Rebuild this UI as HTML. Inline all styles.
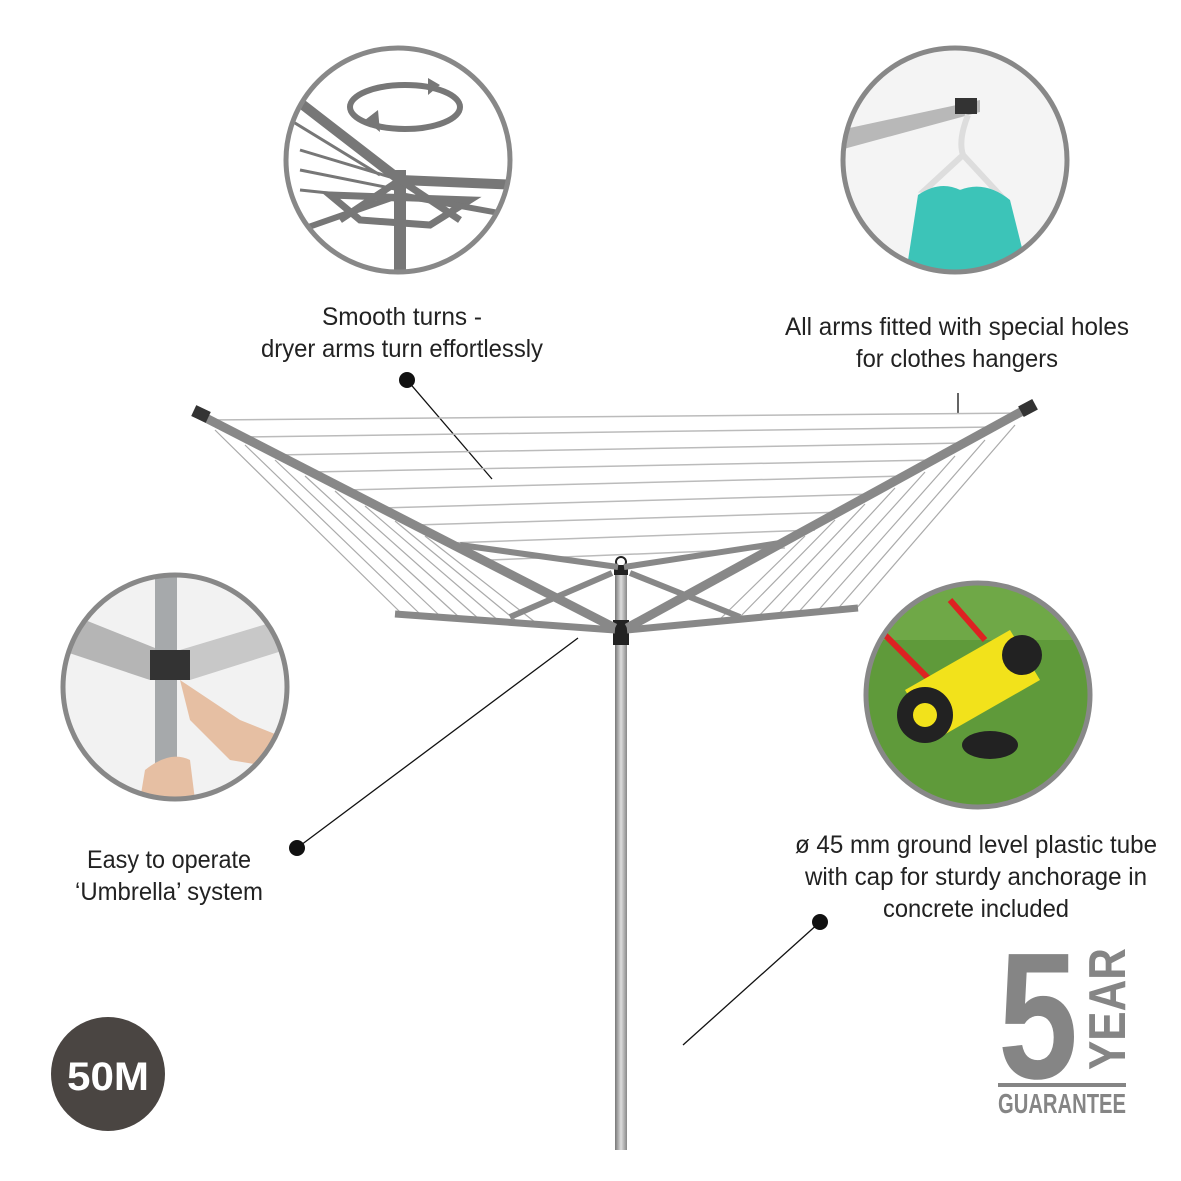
<!DOCTYPE html>
<html><head><meta charset="utf-8"><style>
html,body{margin:0;padding:0;background:#fff}
svg{display:block}
text{font-family:"Liberation Sans",sans-serif}
</style></head><body>
<svg width="1181" height="1181" viewBox="0 0 1181 1181" xmlns="http://www.w3.org/2000/svg">
<defs>
<clipPath id="c1"><circle cx="398" cy="160" r="110"/></clipPath>
<clipPath id="c2"><circle cx="955" cy="160" r="110"/></clipPath>
<clipPath id="c3"><circle cx="175" cy="687" r="110"/></clipPath>
<clipPath id="c4"><circle cx="978" cy="695" r="110"/></clipPath>
<linearGradient id="pole" x1="0" x2="1"><stop offset="0" stop-color="#777"/><stop offset="0.5" stop-color="#ddd"/><stop offset="1" stop-color="#888"/></linearGradient>
</defs>

<!-- top-left circle -->
<g clip-path="url(#c1)">
<rect x="280" y="40" width="240" height="240" fill="#fff"/>
<g stroke="#777" fill="none">
<path d="M290 95 L400 180 L520 185" stroke-width="10"/>
<path d="M300 150 L400 180 M300 170 L400 190 M300 190 L395 200 M290 120 L380 175" stroke-width="3"/>
<path d="M330 195 L470 200 L430 225 L360 220 Z" stroke-width="7"/>
<path d="M400 170 L400 280" stroke-width="12"/>
<path d="M340 220 L400 180 L460 220" stroke-width="7"/>
<path d="M300 230 L400 195 L510 215" stroke-width="6"/>
</g>
<ellipse cx="405" cy="107" rx="55" ry="22" fill="none" stroke="#777" stroke-width="6"/>
<path d="M365 120 L378 110 L380 132 Z M440 85 L428 95 L428 78 Z" fill="#777"/>
</g>
<circle cx="398" cy="160" r="112" fill="none" stroke="#888" stroke-width="5"/>

<!-- top-right circle -->
<g clip-path="url(#c2)">
<rect x="840" y="45" width="230" height="230" fill="#f4f4f4"/>
<path d="M840 130 L980 100 L980 112 L840 150 Z" fill="#b8b8b8"/>
<rect x="955" y="98" width="22" height="16" fill="#333"/>
<path d="M968 115 q-10 25 -5 40 M963 155 L925 190 L1000 195 Z" stroke="#ddd" stroke-width="6" fill="none"/>
<path d="M918 195 Q940 180 960 190 Q985 180 1010 200 L1030 280 L905 280 Z" fill="#3cc4b8"/>
</g>
<circle cx="955" cy="160" r="112" fill="none" stroke="#888" stroke-width="5"/>

<!-- left circle -->
<g clip-path="url(#c3)">
<rect x="60" y="575" width="230" height="230" fill="#f2f2f2"/>
<path d="M60 610 L160 650 L150 680 L60 650 Z" fill="#b5b5b5"/>
<path d="M180 650 L280 620 L285 650 L190 680 Z" fill="#c8c8c8"/>
<rect x="155" y="575" width="22" height="230" fill="#a6a9ab"/>
<rect x="150" y="650" width="40" height="30" fill="#333"/>
<path d="M180 680 Q210 700 240 720 L290 740 L290 770 L230 760 L190 720 Z" fill="#e6bfa3"/>
<path d="M145 770 Q170 750 190 760 L195 800 L140 800 Z" fill="#e6bfa3"/>
</g>
<circle cx="175" cy="687" r="112" fill="none" stroke="#888" stroke-width="5"/>

<!-- right circle -->
<g clip-path="url(#c4)">
<rect x="860" y="580" width="240" height="240" fill="#5f9a3a"/>
<rect x="860" y="580" width="240" height="60" fill="#6fa847"/>
<path d="M870 620 L940 690 M950 600 L985 640" stroke="#d22" stroke-width="6"/>
<path d="M905 690 L1010 630 L1040 680 L935 740 Z" fill="#f2e21b"/>
<circle cx="925" cy="715" r="28" fill="#222"/>
<circle cx="925" cy="715" r="12" fill="#f2e21b"/>
<circle cx="1022" cy="655" r="20" fill="#222"/>
<ellipse cx="990" cy="745" rx="28" ry="14" fill="#222"/>
</g>
<circle cx="978" cy="695" r="112" fill="none" stroke="#888" stroke-width="5"/>

<!-- labels -->
<g font-size="25" fill="#222" text-anchor="middle">
<text x="402" y="325" textLength="160" lengthAdjust="spacingAndGlyphs">Smooth turns -</text>
<text x="402" y="357" textLength="282" lengthAdjust="spacingAndGlyphs">dryer arms turn effortlessly</text>
<text x="957" y="335" textLength="344" lengthAdjust="spacingAndGlyphs">All arms fitted with special holes</text>
<text x="957" y="367" textLength="202" lengthAdjust="spacingAndGlyphs">for clothes hangers</text>
<text x="169" y="868" textLength="164" lengthAdjust="spacingAndGlyphs">Easy to operate</text>
<text x="169" y="900" textLength="188" lengthAdjust="spacingAndGlyphs">‘Umbrella’ system</text>
<text x="976" y="853" textLength="362" lengthAdjust="spacingAndGlyphs">ø 45 mm ground level plastic tube</text>
<text x="976" y="885" textLength="342" lengthAdjust="spacingAndGlyphs">with cap for sturdy anchorage in</text>
<text x="976" y="917" textLength="186" lengthAdjust="spacingAndGlyphs">concrete included</text>
</g>

<!-- pointers -->
<g stroke="#111" stroke-width="1.3">
<line x1="407" y1="380" x2="492" y2="479"/>
<line x1="958" y1="393" x2="958" y2="414"/>
<line x1="297" y1="848" x2="578" y2="638"/>
<line x1="820" y1="922" x2="683" y2="1045"/>
</g>
<g fill="#111">
<circle cx="407" cy="380" r="8"/>
<circle cx="297" cy="848" r="8"/>
<circle cx="820" cy="922" r="8"/>
</g>

<!-- dryer lines -->
<g stroke="#bbb" stroke-width="1.5">
<line x1="205" y1="420" x2="1025" y2="413"/>
<line x1="240" y1="437" x2="995" y2="427"/>
<line x1="275" y1="455" x2="965" y2="443"/>
<line x1="310" y1="472" x2="935" y2="460"/>
<line x1="345" y1="490" x2="905" y2="476"/>
<line x1="380" y1="508" x2="875" y2="494"/>
<line x1="415" y1="525" x2="845" y2="512"/>
<line x1="450" y1="543" x2="815" y2="530"/>
<line x1="490" y1="560" x2="785" y2="548"/>
</g>
<g stroke="#aaa" stroke-width="1.2">
<line x1="215" y1="430" x2="400" y2="612"/>
<line x1="245" y1="445" x2="420" y2="614"/>
<line x1="275" y1="460" x2="440" y2="616"/>
<line x1="305" y1="476" x2="460" y2="618"/>
<line x1="335" y1="491" x2="480" y2="620"/>
<line x1="365" y1="506" x2="500" y2="622"/>
<line x1="395" y1="521" x2="520" y2="624"/>
<line x1="425" y1="536" x2="540" y2="626"/>
<line x1="1015" y1="425" x2="855" y2="610"/>
<line x1="985" y1="440" x2="835" y2="612"/>
<line x1="955" y1="456" x2="815" y2="614"/>
<line x1="925" y1="472" x2="795" y2="616"/>
<line x1="895" y1="488" x2="775" y2="618"/>
<line x1="865" y1="504" x2="755" y2="620"/>
<line x1="835" y1="520" x2="735" y2="622"/>
<line x1="805" y1="536" x2="715" y2="624"/>
</g>

<!-- pole -->
<rect x="615" y="570" width="12" height="580" fill="url(#pole)"/>
<rect x="613" y="620" width="16" height="25" fill="#222"/>
<rect x="614" y="565" width="14" height="10" fill="#222"/>
<circle cx="621" cy="562" r="5" fill="none" stroke="#222" stroke-width="2"/>

<!-- arms -->
<g stroke="#888" stroke-linecap="butt">
<line x1="460" y1="545" x2="618" y2="567" stroke-width="6"/>
<line x1="780" y1="543" x2="624" y2="567" stroke-width="6"/>
<line x1="612" y1="573" x2="510" y2="617" stroke-width="6"/>
<line x1="630" y1="573" x2="740" y2="617" stroke-width="6"/>
<line x1="395" y1="614" x2="615" y2="630" stroke-width="7"/>
<line x1="858" y1="608" x2="627" y2="630" stroke-width="7"/>
<line x1="200" y1="415" x2="615" y2="628" stroke-width="9"/>
<line x1="1028" y1="408" x2="627" y2="628" stroke-width="9"/>
</g>
<g fill="#333">
<rect x="193" y="408" width="16" height="12" transform="rotate(25 201 414)"/>
<rect x="1020" y="402" width="16" height="12" transform="rotate(-28 1028 408)"/>
</g>

<!-- 50M badge -->
<circle cx="108" cy="1074" r="57" fill="#4a4542"/>
<text x="108" y="1090" font-size="40" font-weight="bold" fill="#fff" text-anchor="middle" textLength="82" lengthAdjust="spacingAndGlyphs">50M</text>

<!-- 5 year guarantee -->
<g fill="#858585">
<text x="998" y="1078" font-size="180" font-weight="bold" textLength="80" lengthAdjust="spacingAndGlyphs">5</text>
<text transform="translate(1125 1070) rotate(-90)" font-size="52" font-weight="bold" textLength="122" lengthAdjust="spacingAndGlyphs">YEAR</text>
<rect x="998" y="1083" width="128" height="4"/>
<text x="998" y="1113" font-size="28" font-weight="bold" textLength="128" lengthAdjust="spacingAndGlyphs">GUARANTEE</text>
</g>
</svg>
</body></html>
